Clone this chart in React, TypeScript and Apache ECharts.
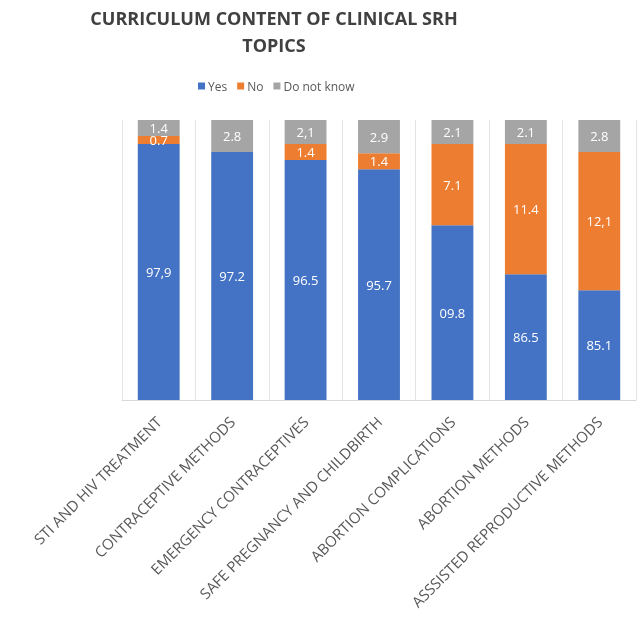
import React, { useEffect, useRef } from "react";
import * as echarts from "echarts";

const categories = [
  "STI AND HIV TREATMENT",
  "CONTRACEPTIVE METHODS",
  "EMERGENCY CONTRACEPTIVES",
  "SAFE PREGNANCY AND CHILDBIRTH",
  "ABORTION COMPLICATIONS",
  "ABORTION METHODS",
  "ASSSISTED REPRODUCTIVE METHODS",
];
const yesValues = [97.9, 97.2, 96.5, 95.7, 90.8, 86.5, 85.1];
const noValues = [0.7, 0, 1.4, 1.4, 7.1, 11.4, 12.1];
const dnkValues = [1.4, 2.8, 2.1, 2.9, 2.1, 2.1, 2.8];
const yesLabels = ["97,9", "97.2", "96.5", "95.7", "09.8", "86.5", "85.1"];
const noLabels = ["0.7", "", "1.4", "1.4", "7.1", "11.4", "12,1"];
const dnkLabels = ["1.4", "2.8", "2,1", "2.9", "2.1", "2.1", "2.8"];
const seriesNames = ["Yes", "No", "Do not know"];
const colors = ["#4472C4", "#ED7D31", "#A5A5A5"];

export default function App() {
  const ref = useRef<HTMLDivElement>(null);
  useEffect(() => {
    if (!ref.current) return;
    const chart = echarts.init(ref.current, null, { renderer: "svg" });
    const labelStyle = (texts: string[]) => ({
      show: true,
      position: "inside",
      color: "#ffffff",
      fontFamily: "Open Sans",
      fontSize: 13,
      formatter: (p: any) => texts[p.dataIndex],
    });
    const valuesList = [yesValues, noValues, dnkValues];
    const labelsList = [yesLabels, noLabels, dnkLabels];
    chart.setOption({
      animation: false,
      color: colors,
      title: {
        text: "CURRICULUM CONTENT OF CLINICAL SRH\nTOPICS",
        left: 274,
        top: 4,
        padding: 0,
        textAlign: "center",
        textStyle: {
          fontFamily: "Open Sans",
          fontWeight: "bold",
          fontSize: 18,
          lineHeight: 27,
          color: "#404040",
        },
      },
      legend: {
        data: seriesNames,
        left: 198,
        top: 80,
        padding: 0,
        itemWidth: 7,
        itemHeight: 7,
        itemGap: 10,
        icon: "rect",
        textStyle: { fontFamily: "Open Sans", fontSize: 12, color: "#595959", padding: [0, 0, 0, -2] },
      },
      grid: { left: 122, right: 6, top: 120, bottom: 225 },
      xAxis: {
        type: "category",
        data: categories,
        axisTick: { show: false },
        axisLine: { lineStyle: { color: "#d9d9d9" } },
        splitLine: { show: true, lineStyle: { color: "#e4e4e4" } },
        axisLabel: {
          interval: 0,
          rotate: 45,
          margin: 19,
          fontFamily: "Open Sans",
          fontSize: 15,
          color: "#595959",
        },
      },
      yAxis: {
        type: "value",
        min: 75.5,
        max: 100,
        show: false,
        splitLine: { show: false },
      },
      series: seriesNames.map((name, i) => ({
        name,
        type: "bar",
        stack: "total",
        barCategoryGap: "43%",
        data: valuesList[i],
        label: labelStyle(labelsList[i]),
      })),
    });
    return () => chart.dispose();
  }, []);
  return (
    <div
      ref={ref}
      style={{ position: "fixed", left: 0, top: 0, width: 642, height: 625 }}
    />
  );
}
